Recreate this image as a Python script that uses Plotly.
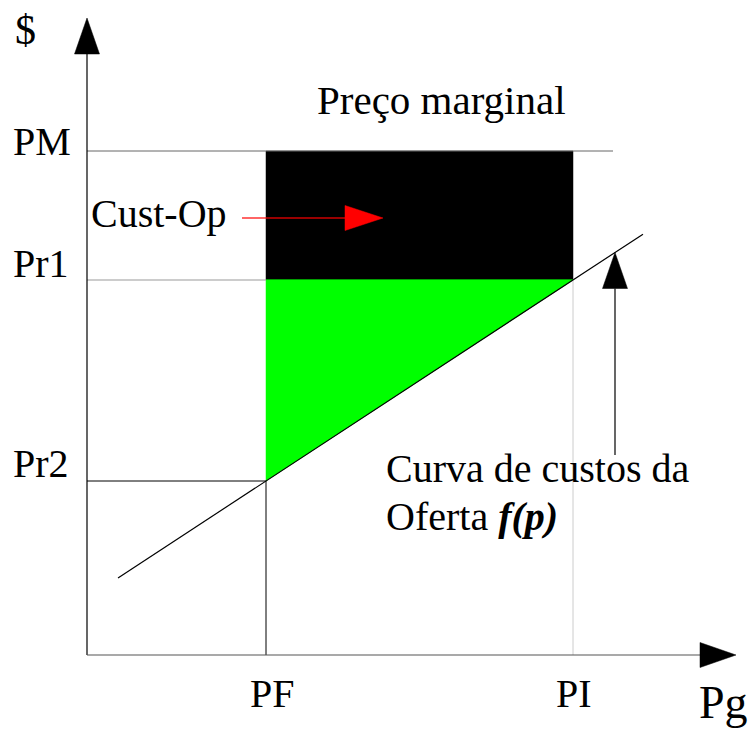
import plotly.graph_objects as go

# ---- diagram values (data units, origin at the axes crossing) ----
PF, PI = 179, 486            # generation levels on the Pg axis
PR2, PR1, PM = 174, 375, 504  # price levels on the $ axis
X_AXIS_END, Y_AXIS_END = 649, 637
SUPPLY_X = [31, 556]          # extent of the supply-cost line
PM_LINE_END = 526
x_labels = ["PF", "PI"]
y_labels = ["Pr2", "Pr1", "PM"]

slope = (PR1 - PR2) / (PI - PF)
def supply(x):
    return PR2 + (x - PF) * slope

FONT = "Liberation Serif"
fig = go.Figure()

def line(xs, ys, color="black", width=1):
    fig.add_trace(go.Scatter(x=xs, y=ys, mode="lines",
                             line=dict(color=color, width=width),
                             hoverinfo="skip", showlegend=False))

def poly(xs, ys, color):
    fig.add_trace(go.Scatter(x=xs + [xs[0]], y=ys + [ys[0]], mode="lines",
                             fill="toself", fillcolor=color,
                             line=dict(color=color, width=0.5),
                             hoverinfo="skip", showlegend=False))

# cost-of-opportunity rectangle and green triangle
poly([PF, PI, PI, PF], [PR1, PR1, PM, PM], "black")
poly([PF, PI, PF], [PR1, PR1, PR2], "#00ff00")

# guide lines
line([0, PM_LINE_END], [PM, PM], "#666666")
line([0, PF], [PR1, PR1], "#999999")
line([PF, PI], [PR1, PR1], "#00ff00")
line([0, PF], [PR2, PR2], "black")
line([PF, PF], [0, PR2], "black")
line([PI, PI], [0, PR1], "#cccccc")

# supply curve
line(SUPPLY_X, [supply(SUPPLY_X[0]), supply(SUPPLY_X[1])], "black", 1.2)

# axes with arrowheads
AH, AW = 36, 12.5
line([0, 0], [0, Y_AXIS_END - AH], "black", 1.2)
poly([-AW, AW, 0], [Y_AXIS_END - AH, Y_AXIS_END - AH, Y_AXIS_END], "black")
line([0, X_AXIS_END - AH], [0, 0], "#555555", 1.2)
poly([X_AXIS_END - AH, X_AXIS_END - AH, X_AXIS_END], [-AW, AW, 0], "black")

# red arrow (Cust-Op)
RY = 437
line([155, 258], [RY, RY], "rgba(255,0,0,0.6)", 2)
poly([258, 258, 258 + 38], [RY - AW, RY + AW, RY], "red")

# arrow pointing to the supply curve
AX = 528
tip = supply(AX)
line([AX, AX], [200, tip - AH], "black", 1.2)
poly([AX - AW, AX + AW, AX], [tip - AH, tip - AH, tip], "black")

def text(t, x, y, size=40, xanchor="center", yanchor="middle"):
    fig.add_annotation(x=x, y=y, text=t, showarrow=False, xanchor=xanchor,
                       yanchor=yanchor, borderpad=0,
                       font=dict(family=FONT, size=size, color="black"))

text("$", -62, 625, 42)
text("Preço marginal", 354, 555, 41)
text(y_labels[2], -45, PM + 10)
text(y_labels[1], -46, PR1 + 17)
text(y_labels[0], -46, PR2 + 18)
text("Cust-Op", 72, 442)
text("Curva de custos da", 298, 187, xanchor="left")
text("Oferta <b><i>f(p)</i></b>", 298, 139, xanchor="left")
text(x_labels[0], PF + 6, -38)
text(x_labels[1], PI + 1, -38)
text("Pg", 662, -74, 46, xanchor="right", yanchor="bottom")

fig.update_layout(
    width=752, height=729, margin=dict(l=0, r=0, t=0, b=0),
    paper_bgcolor="white", plot_bgcolor="white",
    xaxis=dict(range=[-87, 665], visible=False, fixedrange=True),
    yaxis=dict(range=[-74, 655], visible=False, fixedrange=True),
    showlegend=False,
)
fig.write_html("out.html", config={"displayModeBar": False},
               post_script="document.body.style.margin='0';document.body.style.overflow='hidden';")
